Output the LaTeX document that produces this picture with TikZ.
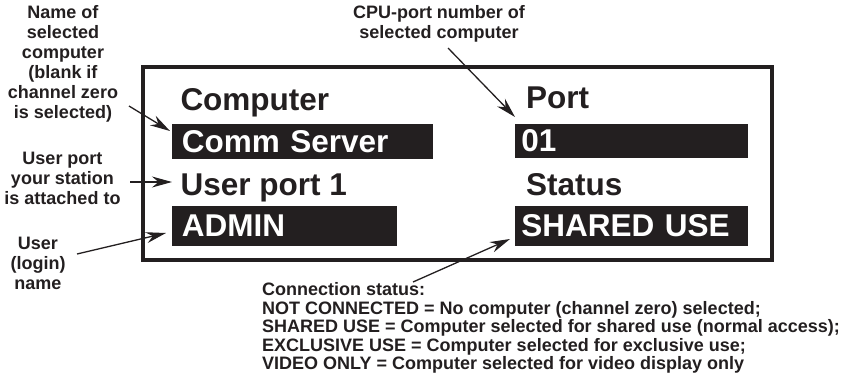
\documentclass[tikz,border=0pt]{standalone}
\usepackage{fontspec}
\setmainfont{Liberation Sans}
\usetikzlibrary{arrows.meta}
\definecolor{ink}{HTML}{231F20}
\begin{document}
\begin{tikzpicture}[x=1pt,y=-1pt,
  heading/.style={font=\bfseries\fontsize{31.5}{36}\selectfont, text=ink, inner sep=0pt, anchor=base west},
  bar/.style={fill=ink, text=white, font=\bfseries\fontsize{31.5}{36}\selectfont,
    anchor=north west, inner ysep=0pt, align=left},
  note/.style={font=\bfseries\fontsize{18}{20}\selectfont, text=ink, inner sep=0pt, align=center},
  pointer/.style={draw=ink, line width=1.3pt, -{Stealth[length=20pt,width=11pt]}}]
\useasboundingbox (0,0) rectangle (858,383);

% display frame
\draw[ink, line width=4pt] (143,67) rectangle (772,259.5);

% left column
\node[heading] (computer) at (180.3,110) {Computer};
\node[bar, text width=241.8pt, inner xsep=9.6pt, minimum height=34.3pt] (commserver) at (172,124) {Comm Server};
\node[heading] (userport) at (180.4,195) {User port 1};
\node[bar, text width=205.8pt, inner xsep=9.6pt, minimum height=39.3pt] (admin) at (172,206) {ADMIN};

% right column
\node[heading] (port) at (526,108.5) {Port};
\node[bar, text width=220.6pt, inner xsep=6.2pt, minimum height=34.3pt] (portnum) at (515,123.3) {01};
\node[heading] (status) at (526,195) {Status};
\node[bar, text width=220.6pt, inner xsep=6.2pt, minimum height=39.7pt] (state) at (515,206) {SHARED USE};

% callout texts
\node[note] (namelbl) at (63,64.3) {Name of\\selected\\computer\\(blank if\\channel zero\\is selected)};
\node[note] (portlbl) at (62.5,178.5) {User port\\your station\\is attached to};
\node[note] (userlbl) at (38,263.5) {User\\(login)\\name};
\node[note] (cpulbl) at (439,23.4) {CPU-port number of\\selected computer};
\node[note, align=left, anchor=north west, font=\bfseries\fontsize{18}{18.5}\selectfont] (statuslbl) at (262,282.5)
  {Connection status:\\
   NOT CONNECTED = No computer (channel zero) selected;\\
   SHARED USE = Computer selected for shared use (normal access);\\
   EXCLUSIVE USE = Computer selected for exclusive use;\\
   VIDEO ONLY = Computer selected for video display only};

% pointer ends
\coordinate (nameA) at (129,106);   \coordinate (nameB) at (170,131);
\coordinate (portA) at (130,182);   \coordinate (portB) at (172,182);
\coordinate (userA) at (77,254);    \coordinate (userB) at (166,233);
\coordinate (cpuA) at (448,48);     \coordinate (cpuB) at (515,117);
\coordinate (statA) at (413,282);   \coordinate (statB) at (510,239);

\draw[pointer] (nameA) -- (nameB);
\draw[pointer] (portA) -- (portB);
\draw[pointer] (userA) -- (userB);
\draw[pointer] (cpuA) -- (cpuB);
\draw[pointer] (statA) -- (statB);
\end{tikzpicture}
\end{document}
